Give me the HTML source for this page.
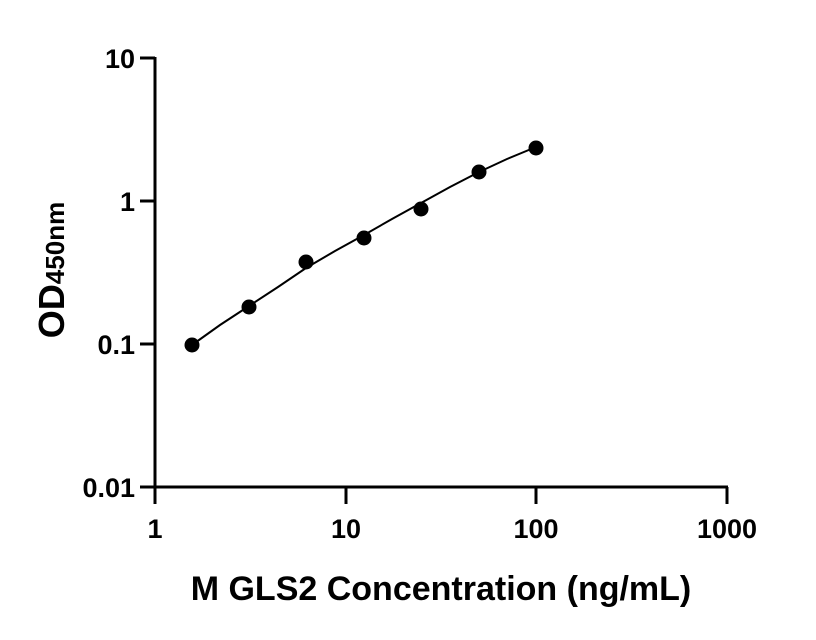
<!DOCTYPE html>
<html><head><style>body{margin:0;background:#fff}svg{display:block}text{font-family:"Liberation Sans",sans-serif;font-weight:bold;fill:#000}</style></head>
<body>
<svg width="816" height="640" viewBox="0 0 816 640">
<g stroke="#000" stroke-width="3" fill="none">
<line x1="155" y1="57" x2="155" y2="489"/>
<line x1="154" y1="487" x2="728" y2="487"/>
<line x1="140" y1="58" x2="155" y2="58"/>
<line x1="140" y1="201" x2="155" y2="201"/>
<line x1="140" y1="344" x2="155" y2="344"/>
<line x1="140" y1="487" x2="155" y2="487"/>
<line x1="155" y1="487" x2="155" y2="504"/>
<line x1="346" y1="487" x2="346" y2="504"/>
<line x1="536" y1="487" x2="536" y2="504"/>
<line x1="727" y1="487" x2="727" y2="504"/>
<polyline stroke-width="2" points="192,345 220,325 249,306 278,287 306,268 335,251 364,235 392,219 421,203 450,187 479,172 507,159 536,147"/>
</g>
<g fill="#000">
<circle cx="192" cy="345" r="7.5"/><circle cx="249" cy="307" r="7.5"/><circle cx="306" cy="262" r="7.5"/><circle cx="364" cy="238" r="7.5"/><circle cx="421" cy="209" r="7.5"/><circle cx="479" cy="172" r="7.5"/><circle cx="536" cy="148" r="7.5"/>
</g>
<g font-size="27" text-anchor="end">
<text x="135" y="68">10</text><text x="135" y="211">1</text><text x="135" y="354">0.1</text><text x="135" y="497">0.01</text>
</g>
<g font-size="27" text-anchor="middle">
<text x="155" y="538">1</text><text x="346" y="538">10</text><text x="536" y="538">100</text><text x="727" y="538">1000</text>
</g>
<text x="441" y="600" font-size="34" text-anchor="middle">M GLS2 Concentration (ng/mL)</text>
<text transform="translate(64,270) rotate(-90)" font-size="36" text-anchor="middle">OD<tspan font-size="26">450nm</tspan></text>
</svg>
</body></html>
